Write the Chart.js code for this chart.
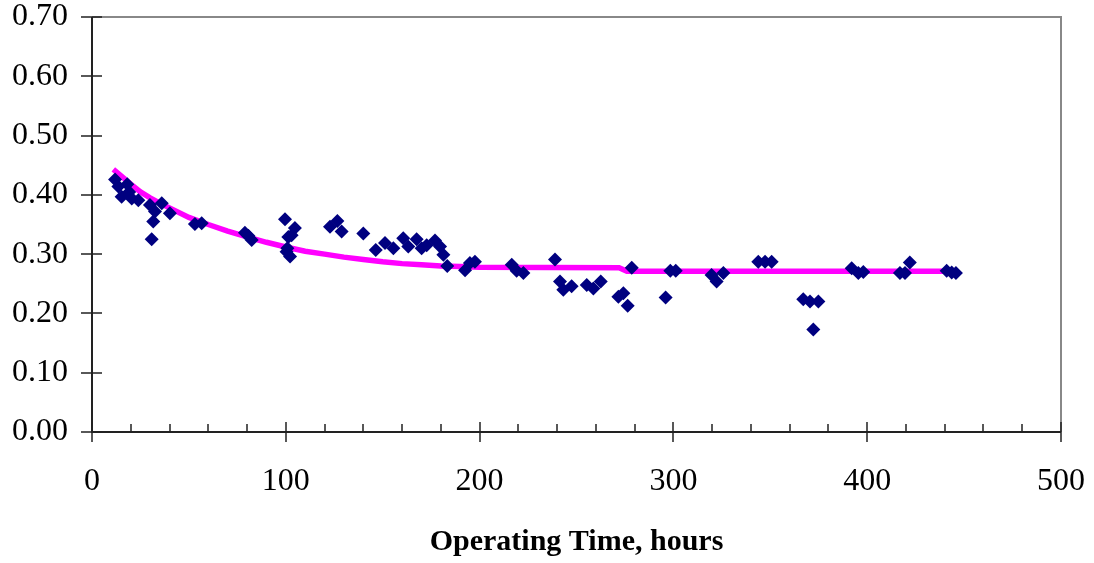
<html lang="en">
<head>
    <meta charset="UTF-8">
    <title>Operating Time</title>
    <script src="https://cdn.jsdelivr.net/npm/chart.js"></script>
    <style>
        body { margin: 0; background: #fff; }
        #wrap { width: 1094px; height: 563px; }
    </style>
</head>
<body>
<div id="wrap"><canvas id="chart"></canvas></div>
<script>
// measured points (hours, value)
const hours = [11.9, 13.6, 15.3, 18.2, 19.2, 20.5, 23.9, 29.9, 36, 32.5, 40.2, 31.6, 30.8,
    53.1, 56.6, 78.9, 80.7, 82.4, 99.6, 101.3, 100.4, 104.7, 103, 100.8, 102.2,
    122.8, 126.6, 128.8, 140, 146.4, 151.2, 155.5, 160.6, 163.2, 167.5, 170.1, 172.7,
    177, 179.6, 181.3, 183.3, 192.5, 195, 197.6,
    216.6, 219.1, 222.6, 238.9, 241.5, 243.2, 247.5, 255.3, 258.7, 262.5,
    271.6, 274.2, 276.4, 278.5, 296, 298.4, 301.2,
    319.7, 322.3, 325.8, 343.8, 347.3, 350.7, 367, 370.5, 374.8, 372.2,
    392, 395.4, 398, 416.9, 419.5, 422, 441, 443.6, 445.8];
const values = [0.426, 0.414, 0.397, 0.418, 0.405, 0.394, 0.391, 0.383, 0.386, 0.372, 0.369, 0.355, 0.325,
    0.351, 0.352, 0.336, 0.331, 0.324, 0.359, 0.329, 0.304, 0.344, 0.332, 0.310, 0.296,
    0.346, 0.356, 0.338, 0.335, 0.307, 0.319, 0.310, 0.327, 0.313, 0.325, 0.310, 0.315,
    0.323, 0.313, 0.299, 0.280, 0.273, 0.285, 0.287,
    0.282, 0.272, 0.268, 0.291, 0.254, 0.240, 0.246, 0.248, 0.242, 0.254,
    0.228, 0.234, 0.213, 0.277, 0.227, 0.272, 0.272,
    0.265, 0.254, 0.268, 0.287, 0.287, 0.287, 0.224, 0.220, 0.220, 0.173,
    0.276, 0.268, 0.270, 0.268, 0.268, 0.286, 0.272, 0.269, 0.268];

// fitted trend line
const fitHours = [11, 15, 20, 25, 30, 35, 40, 50, 60, 70, 80, 90, 100, 110, 120, 130, 140,
    150, 160, 170, 180, 190, 200, 272, 276, 446];
const fitValues = [0.443, 0.432, 0.418, 0.405, 0.395, 0.386, 0.378, 0.362, 0.350, 0.339, 0.329,
    0.320, 0.312, 0.305, 0.300, 0.295, 0.291, 0.287, 0.284, 0.282, 0.280, 0.279, 0.278,
    0.277, 0.271, 0.271];

const serif = "'Liberation Serif', 'Times New Roman', serif";

// Excel-style axes: crossing ticks, minor ticks, grey frame
const axesPlugin = {
    id: 'excelAxes',
    afterDraw(chart) {
        const ctx = chart.ctx;
        const xs = chart.scales.x, ys = chart.scales.y;
        const a = chart.chartArea;
        ctx.save();
        ctx.lineWidth = 2;
        ctx.strokeStyle = '#888';
        ctx.beginPath();
        ctx.moveTo(a.left, a.top); ctx.lineTo(a.right, a.top); ctx.lineTo(a.right, a.bottom);
        ctx.stroke();
        ctx.strokeStyle = '#222';
        ctx.beginPath();
        ctx.moveTo(a.left, a.top); ctx.lineTo(a.left, a.bottom); ctx.lineTo(a.right, a.bottom);
        ctx.stroke();
        ctx.lineWidth = 1.5;
        ctx.beginPath();
        for (let v = 0; v <= 0.7001; v += 0.1) {
            const y = Math.round(ys.getPixelForValue(v));
            ctx.moveTo(a.left - 11, y); ctx.lineTo(a.left + 10, y);
        }
        for (let h = 0; h <= 500; h += 20) {
            const x = Math.round(xs.getPixelForValue(h));
            if (h % 100 === 0) { ctx.moveTo(x, a.bottom - 10); ctx.lineTo(x, a.bottom + 10); }
            else { ctx.moveTo(x, a.bottom - 8); ctx.lineTo(x, a.bottom); }
        }
        ctx.stroke();
        ctx.restore();
    }
};

new Chart(document.getElementById('chart'), {
    type: 'scatter',
    data: {
        datasets: [{
            data: hours.map((h, i) => ({ x: h, y: values[i] })),
            pointStyle: 'rectRot',
            pointRadius: 7,
            pointHoverRadius: 7,
            backgroundColor: '#000080',
            borderColor: '#000080',
            borderWidth: 0,
            order: 0
        }, {
            type: 'line',
            data: fitHours.map((h, i) => ({ x: h, y: fitValues[i] })),
            borderColor: '#ff00ff',
            borderWidth: 5.5,
            pointRadius: 0,
            fill: false,
            tension: 0,
            order: 1
        }]
    },
    options: {
        responsive: true,
        maintainAspectRatio: false,
        animation: false,
        layout: { padding: { top: 17, right: 33, left: 0, bottom: 0 } },
        plugins: { legend: { display: false }, tooltip: { enabled: false } },
        scales: {
            x: {
                type: 'linear', min: 0, max: 500,
                grid: { display: false },
                border: { display: false },
                ticks: { stepSize: 100, color: '#000', padding: 22, font: { family: serif, size: 32 } },
                title: {
                    display: true, text: 'Operating Time, hours', color: '#000',
                    font: { family: serif, size: 30, weight: 'bold' },
                    padding: { top: 31, bottom: 3 }
                },
                afterFit(s) { s.height = 131; s.paddingLeft = 0; s.paddingRight = 0; }
            },
            y: {
                min: 0, max: 0.7,
                grid: { display: false },
                border: { display: false },
                ticks: {
                    stepSize: 0.1, color: '#000', padding: 16,
                    font: { family: serif, size: 32 },
                    callback: v => v.toFixed(2)
                },
                afterFit(s) { s.width = 92; s.paddingTop = 0; s.paddingBottom = 0; }
            }
        }
    },
    plugins: [axesPlugin]
});
</script>
</body>
</html>
